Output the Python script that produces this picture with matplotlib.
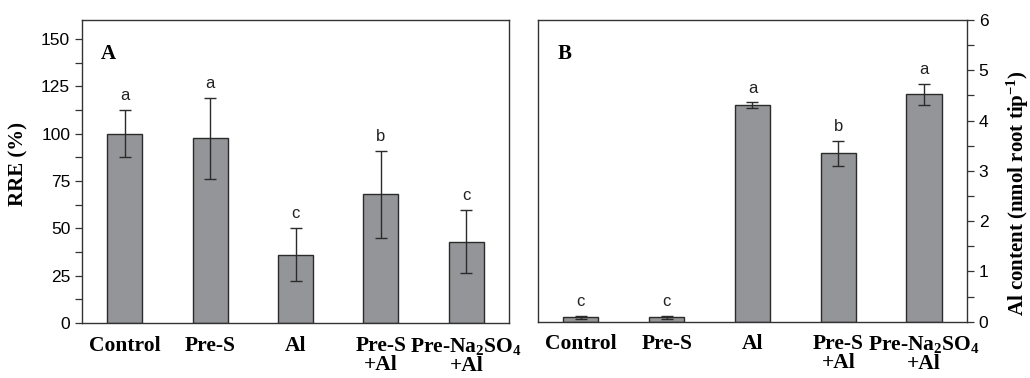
import matplotlib
matplotlib.use("Agg")
import matplotlib.pyplot as plt
from matplotlib.ticker import MultipleLocator

plt.rcParams['font.family'] = 'Liberation Sans'
plt.rcParams['mathtext.fontset'] = 'custom'
plt.rcParams['mathtext.rm'] = 'Liberation Serif:bold'
plt.rcParams['mathtext.it'] = 'Liberation Serif:bold'
plt.rcParams['mathtext.bf'] = 'Liberation Serif:bold'

# Data
categories = ["Control", "Pre-S", "Al", "Pre-S\n+Al", "Pre-Na$_2$SO$_4$\n+Al"]

rre_mean = [100, 97.5, 36, 68, 43]
rre_err = [12.5, 21.5, 14, 23, 16.5]
rre_letters = ["a", "a", "c", "b", "c"]

al_mean = [0.09, 0.09, 4.31, 3.35, 4.52]
al_err = [0.03, 0.03, 0.05, 0.25, 0.21]
al_letters = ["c", "c", "a", "b", "a"]

BAR = "#939598"
EDGE = "#2b2b2b"
SERIF = "Liberation Serif"

fig = plt.figure(figsize=(10.3, 3.78), dpi=100)
axA = fig.add_axes([0.0796, 0.1455, 0.4146, 0.8016])
axB = fig.add_axes([0.5223, 0.149, 0.4165, 0.798])


def draw_panel(ax, means, errs, letters, ylim, major, minor, tag):
    x = list(range(len(means)))
    ax.bar(x, means, width=0.41, color=BAR, edgecolor=EDGE, linewidth=1.0, zorder=2)
    ax.errorbar(x, means, yerr=errs, fmt='none', ecolor=EDGE, elinewidth=1.0,
                capsize=4.3, capthick=1.0, zorder=3)
    for xi, m, e, lab in zip(x, means, errs, letters):
        ax.annotate(lab, (xi, m + e), xytext=(0, 5), textcoords='offset points',
                    ha='center', va='bottom', fontsize=12, color='#222222')
    ax.set_xlim(-0.5, 4.5)
    ax.set_ylim(*ylim)
    ax.yaxis.set_major_locator(MultipleLocator(major))
    ax.yaxis.set_minor_locator(MultipleLocator(minor))
    ax.set_xticks(x)
    ax.set_xticklabels(categories, fontfamily=SERIF, fontweight='bold', fontsize=15.5,
                       linespacing=0.95)
    ax.tick_params(axis='x', length=0, pad=9)
    ax.tick_params(axis='y', which='both', direction='out', length=5, width=0.9,
                   labelsize=12.5, color='#333333')
    for s in ax.spines.values():
        s.set_linewidth(1.0)
        s.set_color('#333333')
    ax.text(0.045, 0.92, tag, transform=ax.transAxes, fontfamily=SERIF,
            fontweight='bold', fontsize=15, va='top', ha='left')


draw_panel(axA, rre_mean, rre_err, rre_letters, (0, 160), 25, 12.5, "A")
axA.set_ylabel("RRE (%)", fontfamily=SERIF, fontweight='bold', fontsize=15)
axA.yaxis.set_label_coords(-0.126, 0.524)

draw_panel(axB, al_mean, al_err, al_letters, (0, 6), 1, 0.5, "B")
axB.yaxis.tick_right()
axB.yaxis.set_label_position('right')
axB.tick_params(axis='y', which='both', left=False, right=True)
axB.set_ylabel("Al content (nmol root tip$^{\\mathregular{-1}}$)", fontfamily=SERIF,
               fontweight='bold', fontsize=15, rotation=90)
axB.yaxis.set_label_coords(1.088, 0.425)

fig.savefig("out.png", dpi=100, facecolor='white')
